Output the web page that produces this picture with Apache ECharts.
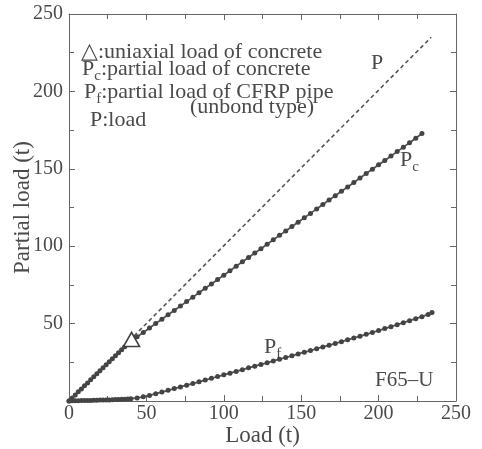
<!DOCTYPE html>
<html>
<head>
<meta charset="utf-8">
<script src="https://cdn.jsdelivr.net/npm/echarts@6/dist/echarts.min.js"></script>
<style>
html,body{margin:0;padding:0;background:#fff;}
#chart{width:482px;height:449px;}
</style>
</head>
<body>
<div id="chart"></div>
<script>
// ---- data ----
const xTicks = [0, 50, 100, 150, 200, 250];
const yTicks = [0, 50, 100, 150, 200, 250];

// P : total load (dashed line)
const pLoad  = [42, 234];
const pValue = [42, 235];

// Pc : partial load of concrete
const pcLoad = [0,2,4,6,8,10,12,14,16,18,20,22,24,26,28,30,32,34,36,38,40,
  44,48,52,56,60,64,68,72,76,80,84,88,92,96,100,104,108,112,116,120,124,128,132,136,140,
  144,148,152,156,160,164,168,172,176,180,184,188,192,196,200,204,208,212,216,220,224,228];
const pcValue = [0,2,3.9,5.9,7.8,9.8,11.7,13.7,15.6,17.6,19.5,21.5,23.4,25.4,27.3,29.2,31.2,33.1,35.0,36.9,38.7,
  41.5,44.3,47.2,50.0,52.8,55.7,58.5,61.4,64.2,67.1,69.9,72.8,75.6,78.5,81.3,84.2,87.0,89.9,92.7,95.6,98.4,101.3,104.1,107.0,109.8,
  112.7,115.5,118.4,121.2,124.1,126.9,129.8,132.6,135.5,138.3,141.2,144.0,146.9,149.7,152.6,155.4,158.3,161.1,164.0,166.8,169.7,172.8];

// Pf : partial load of CFRP pipe
const pfLoad = [0,2,4,6,8,10,12,14,16,18,20,22,24,26,28,30,32,34,36,38,40,
  44,48,52,56,60,64,68,72,76,80,84,88,92,96,100,104,108,112,116,120,124,128,132,136,140,
  144,148,152,156,160,164,168,172,176,180,184,188,192,196,200,204,208,212,216,220,224,228,232];
const pfValue = [0,0.1,0.2,0.2,0.3,0.3,0.4,0.4,0.5,0.5,0.6,0.6,0.7,0.7,0.8,0.9,1.0,1.1,1.2,1.3,1.5,
  2.0,2.7,3.6,4.7,5.8,6.9,8.0,9.1,10.2,11.3,12.4,13.5,14.7,15.8,16.9,18.0,19.1,20.2,21.4,22.5,23.6,24.7,25.9,27.0,28.1,
  29.2,30.4,31.5,32.6,33.8,34.9,36.0,37.2,38.3,39.5,40.7,41.9,43.1,44.3,45.5,46.8,48.0,49.3,50.6,51.9,53.2,54.5,55.9];
const pfEnd = [234.5, 57.2];

// uniaxial load of concrete (triangle)
const triLoad = [40.4];
const triValue = [39.8];

// ---- chart ----
const FONT = "'Liberation Serif', 'Times New Roman', serif";
const TXT = '#4a4a4a';
const LINE = '#555555';

const zip = (a, b) => a.map((v, i) => [v, b[i]]);

const chart = echarts.init(document.getElementById('chart'), null, {renderer: 'canvas'});

const axisCommon = {
  type: 'value', min: 0, max: 250, interval: 50,
  axisLine: {show: true, onZero: false, lineStyle: {color: '#666', width: 1}},
  axisTick: {show: true, inside: true, length: 6, lineStyle: {color: '#666'}},
  minorTick: {show: true, splitNumber: 2, length: 5, lineStyle: {color: '#666'}},
  splitLine: {show: false},
  minorSplitLine: {show: false}
};

const sub = {
  m: {fontFamily: FONT, fontSize: 22, fill: TXT, color: TXT, lineHeight: 26, verticalAlign: 'top'},
  s: {fontFamily: FONT, fontSize: 15, fill: TXT, color: TXT, lineHeight: 26, verticalAlign: 'bottom'}
};

const option = {
  backgroundColor: '#ffffff',
  animation: false,
  grid: {left: 69, right: 26, top: 14, bottom: 48, containLabel: false, outerBoundsMode: 'none'},
  xAxis: [
    Object.assign({}, axisCommon, {
      position: 'bottom',
      axisLabel: {fontFamily: FONT, fontSize: 20, color: TXT, margin: 3,
        formatter: v => xTicks.includes(v) ? String(v) : ''},
      name: 'Load (t)', nameLocation: 'middle', nameGap: 23, nameMoveOverlap: false,
      nameTextStyle: {fontFamily: FONT, fontSize: 23, color: TXT}
    }),
    Object.assign({}, axisCommon, {position: 'top', axisLabel: {show: false}})
  ],
  yAxis: [
    Object.assign({}, axisCommon, {
      position: 'left',
      axisLabel: {fontFamily: FONT, fontSize: 20, color: TXT, margin: 6, showMinLabel: false,
        formatter: v => yTicks.includes(v) ? String(v) : ''},
      name: 'Partial load (t)', nameLocation: 'middle', nameGap: 35, nameMoveOverlap: false,
      nameTextStyle: {fontFamily: FONT, fontSize: 23, color: TXT}
    }),
    Object.assign({}, axisCommon, {position: 'right', axisLabel: {show: false}})
  ],
  series: [
    {
      name: 'P', type: 'line', data: zip(pLoad, pValue), symbol: 'none',
      lineStyle: {color: LINE, width: 1.6, type: [4, 3]}, z: 2
    },
    {
      name: 'Pc', type: 'line', data: zip(pcLoad, pcValue), symbol: 'circle', symbolSize: 5,
      lineStyle: {color: LINE, width: 1.8}, itemStyle: {color: '#444'}, z: 3
    },
    {
      name: 'Pf', type: 'line', data: zip(pfLoad, pfValue).concat([pfEnd]), symbol: 'circle', symbolSize: 5,
      showSymbol: true,
      lineStyle: {color: LINE, width: 1.8}, itemStyle: {color: '#444'}, z: 3
    },
    {
      name: 'uniaxial', type: 'scatter', data: zip(triLoad, triValue), symbol: 'triangle',
      symbolSize: [16, 14],
      itemStyle: {color: '#ffffff', opacity: 1, borderColor: '#404040', borderWidth: 1.6}, z: 5
    }
  ],
  graphic: [
    {type: 'text', left: 81, top: 41, style: {text: '△:uniaxial load of concrete', fontFamily: FONT, fontSize: 22, fill: TXT}},
    {type: 'text', left: 82, top: 58, style: {text: '{m|P}{s|c}{m|:partial load of concrete}', rich: sub}},
    {type: 'text', left: 84, top: 81, style: {text: '{m|P}{s|f}{m|:partial load of CFRP pipe}', rich: sub}},
    {type: 'text', left: 190, top: 96, style: {text: '(unbond type)', fontFamily: FONT, fontSize: 22, fill: TXT}},
    {type: 'text', left: 90, top: 109, style: {text: 'P:load', fontFamily: FONT, fontSize: 22, fill: TXT}},
    {type: 'text', left: 371, top: 52, style: {text: 'P', fontFamily: FONT, fontSize: 22, fill: TXT}},
    {type: 'text', left: 400, top: 149, style: {text: '{m|P}{s|c}', rich: sub}},
    {type: 'text', left: 264, top: 336, style: {text: '{m|P}{s|f}', rich: sub}},
    {type: 'text', left: 375, top: 370, style: {text: 'F65–U', fontFamily: FONT, fontSize: 21, fill: TXT}}
  ]
};
chart.setOption(option);
</script>
</body>
</html>
